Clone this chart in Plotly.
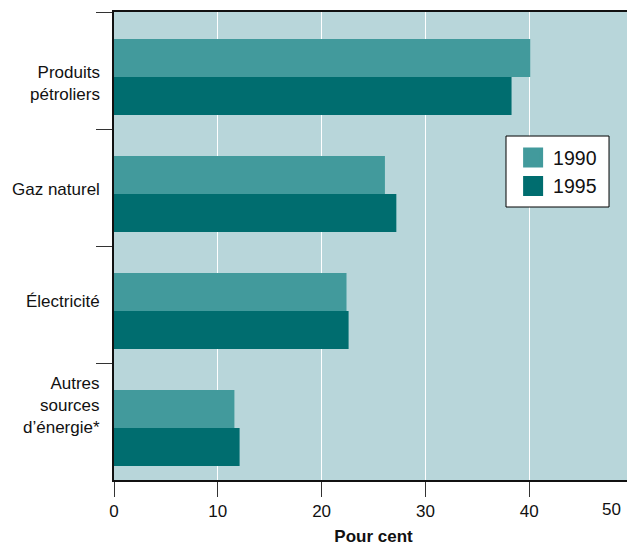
import plotly.graph_objects as go

categories = ["Produits<br>pétroliers", "Gaz naturel", "Électricité", "Autres<br>sources<br>d’énergie*"]
values_1990 = [40.1, 26.1, 22.4, 11.6]
values_1995 = [38.3, 27.2, 22.6, 12.1]
x_ticks = [0, 10, 20, 30, 40, 50]
x_ticktext = ["0", "10", "20", "30", "40", ""]
series_names = ["1990", "1995"]
series_colors = ["#429a9c", "#006d6f"]

# bar geometry within each category band (fractions of band)
bar_width = 0.325
bar_offsets = [-0.269, 0.056]
# vertical nudges (px, downward) of the category labels as placed in the original
label_nudges = [13, 2, -3, -16]

fig = go.Figure()
for name, vals, col, off in zip(series_names, [values_1990, values_1995], series_colors, bar_offsets):
    fig.add_trace(go.Bar(y=categories, x=vals, orientation="h", name=name,
                         width=bar_width, offset=off,
                         marker=dict(color=col, line=dict(width=0)), showlegend=False))
# legend-only entries with square swatches
for name, col in zip(series_names, series_colors):
    fig.add_trace(go.Scatter(x=[None], y=[None], mode="markers", name=name,
                             marker=dict(symbol="square", size=16, color=col,
                                         line=dict(color=col, width=4))))

# category labels
for cat, nudge in zip(categories, label_nudges):
    fig.add_annotation(x=0, y=cat, xref="paper", yref="y", text=cat, showarrow=False,
                       xanchor="right", yanchor="middle", align="right",
                       xshift=-12, yshift=-nudge, font=dict(size=17))

fig.add_annotation(x=50, y=0, xref="x", yref="paper", text=str(x_ticks[-1]),
                   showarrow=False, xanchor="right", yanchor="top", xshift=-10, yshift=-18,
                   font=dict(size=17))

# legend frame
fig.add_shape(type="rect", xref="paper", yref="paper", x0=0.7553, x1=0.9538, y0=0.5833, y1=0.735,
              fillcolor="white", line=dict(color="black", width=1), layer="above")

fig.update_layout(
    width=627, height=540,
    margin=dict(l=106, r=2, t=4, b=68, autoexpand=False),
    paper_bgcolor="white", plot_bgcolor="#b8d6da",
    font=dict(family="Arial, Liberation Sans, sans-serif", size=17, color="#111111"),
    barmode="overlay",
    showlegend=True,
    legend=dict(x=0.769, y=0.730, xanchor="left", yanchor="top",
                bgcolor="rgba(0,0,0,0)", borderwidth=0,
                font=dict(size=19.5), traceorder="normal", itemsizing="trace"),
    xaxis=dict(range=[0, 50], tickvals=x_ticks, ticktext=x_ticktext, showgrid=True,
               gridcolor="white", gridwidth=1, automargin=False,
               showline=True, linecolor="#111111", linewidth=1.5, mirror=True,
               ticks="outside", ticklen=15, tickcolor="#333333", tickwidth=1,
               tickfont=dict(size=17), zeroline=False,
               title=dict(text="<b>Pour cent</b>", font=dict(size=17), standoff=10)),
    yaxis=dict(autorange="reversed", showline=True, linecolor="#111111", linewidth=2, mirror=True,
               ticks="outside", tickson="boundaries", ticklen=16, tickcolor="#333333", tickwidth=1,
               showticklabels=False, showgrid=False, automargin=False),
)

fig.write_html("out.html")
